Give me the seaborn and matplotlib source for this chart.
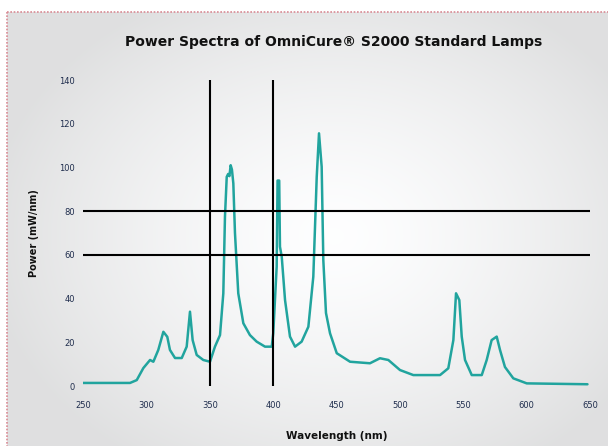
import numpy as np
import pandas as pd
import matplotlib
matplotlib.use("Agg")
import matplotlib.pyplot as plt
from matplotlib.lines import Line2D
import seaborn as sns

# spectrum (nm, mW/nm)
wavelength = [250, 287.1, 292.4, 297.6, 302.9, 305.5, 309.4, 313.4, 316.5, 318.6,
              322.6, 327.9, 331.8, 334.4, 336.5, 339.7, 344.9, 350.2, 354.1, 358.1,
              360.7, 362.0, 363.4, 364.5, 365.5, 366.5, 367.5, 368.6, 369.9, 372.5,
              376.5, 381.7, 387.0, 393.6, 398.9, 400.1, 402.8, 403.5, 404.8, 405.4,
              406.8, 409.4, 413.3, 417.3, 422.5, 427.8, 431.7, 434.4, 436.2, 438.3,
              439.6, 441.7, 444.9, 450.2, 460.7, 476.4, 484.3, 490.9, 500.1, 510.6,
              531.7, 538.2, 542.2, 544.3, 546.9, 548.8, 551.4, 556.7, 564.6, 568.5,
              572.4, 576.4, 579.0, 582.9, 589.5, 600.1, 648.0]
power = [1.4, 1.4, 2.7, 8.2, 11.9, 11.1, 16.5, 24.8, 22.5, 16.5,
         12.8, 12.8, 18.0, 34.0, 21.0, 14.2, 11.9, 11.1, 18.0, 23.3,
         42.4, 77.4, 95.7, 97.0, 96.0, 101.0, 99.0, 92.7, 70.0, 42.4,
         28.7, 23.3, 20.3, 18.0, 18.0, 24.1, 54.6, 94.0, 94.0, 63.7,
         59.1, 39.3, 22.6, 18.0, 20.3, 27.1, 50.0, 95.7, 115.6, 100.3,
         57.6, 33.4, 24.1, 15.0, 11.1, 10.4, 12.7, 11.9, 7.3, 5.0,
         5.0, 8.1, 21.0, 42.4, 39.3, 22.6, 11.9, 5.0, 5.0, 11.9,
         21.0, 22.6, 16.5, 8.7, 3.5, 1.2, 0.8]

x_ticks = [250, 300, 350, 400, 450, 500, 550, 600, 650]
y_ticks = [0, 20, 40, 60, 80, 100, 120, 140]
v_marks = [350, 400]
h_marks = [60, 80]

df = pd.DataFrame({"Wavelength": wavelength, "Power": power})

sns.set_theme(style="white")
plt.rcParams["font.family"] = ["DejaVu Sans"]

W, H = 608, 446
fig = plt.figure(figsize=(W / 100, H / 100), dpi=100)
fig.patch.set_facecolor("white")

# gray radial-ish background inside the dotted frame
bg = fig.add_axes([0, 0, 1, 1], zorder=0)
yy, xx = np.mgrid[0:H, 0:W]
d = np.sqrt(((xx - 330) / 330.0) ** 2 + ((yy - 230) / 260.0) ** 2)
shade = np.clip(1.0 - 0.11 * d ** 1.4, 0.88, 1.0)
img = np.dstack([shade * 0.995, shade * 0.997, shade, np.ones_like(shade)])
bg.imshow(img, extent=[7, W, H, 12], aspect="auto")
bg.set_xlim(0, W)
bg.set_ylim(H, 0)
bg.axis("off")
bg.add_line(Line2D([7, W], [12, 12], color="#d98a94", lw=1.2, ls=(0, (1, 1))))
bg.add_line(Line2D([7, 7], [12, H], color="#d98a94", lw=1.2, ls=(0, (1, 1))))

ax = fig.add_axes([83 / W, (H - 386) / H, (590 - 83) / W, (386 - 80) / H], zorder=1)
ax.set_facecolor("none")

sns.lineplot(data=df, x="Wavelength", y="Power", ax=ax, color="#21a49e", lw=1.8)

for v in v_marks:
    ax.axvline(v, color="black", lw=1.5)
for h in h_marks:
    ax.axhline(h, color="black", lw=1.5)

ax.set_xlim(250, 650)
ax.set_ylim(0, 140)
ax.set_xticks(x_ticks)
ax.set_yticks(y_ticks)
ax.tick_params(axis="both", length=0, labelsize=6, colors="#1f2d4d")
ax.tick_params(axis="x", pad=11)
ax.tick_params(axis="y", pad=6)
for s in ax.spines.values():
    s.set_visible(False)

ax.set_xlabel("Wavelength (nm)", fontsize=7.5, color="#111111", labelpad=15,
              fontweight="semibold")
ax.set_ylabel("Power (mW/nm)", fontsize=7, color="#111111", labelpad=14,
              fontweight="semibold")
fig.text(334 / W, 1 - 42 / H, "Power Spectra of OmniCure® S2000 Standard Lamps",
         ha="center", va="center", fontsize=10, color="#111111", fontweight="bold")

fig.savefig("out.png", dpi=100)
